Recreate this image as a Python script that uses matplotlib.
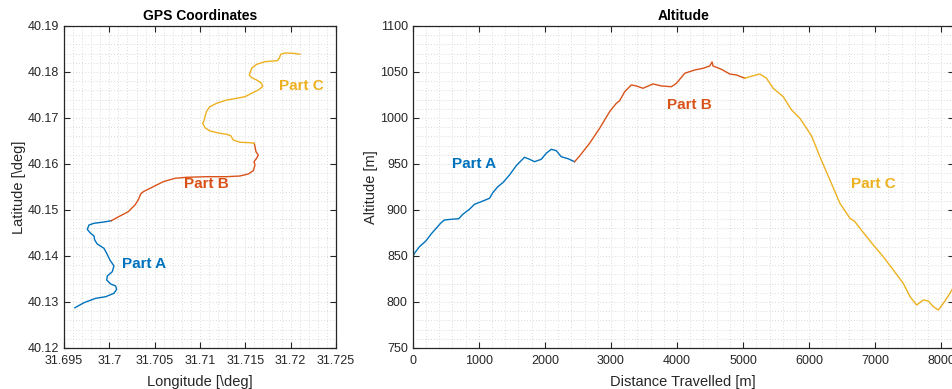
import matplotlib
matplotlib.use("Agg")
import matplotlib.pyplot as plt
from matplotlib.ticker import MultipleLocator, FuncFormatter

plt.rcParams["font.family"] = ["Liberation Sans", "DejaVu Sans"]

# MATLAB default line colours
C_A = "#0072BD"
C_B = "#D95319"
C_C = "#EDB120"
AX_COL = "#262626"

# ── GPS track, split into three parts ──────────────
lon_a = [31.69621, 31.69721, 31.69850, 31.69960, 31.70051, 31.70081, 31.70070,
         31.70015, 31.69971, 31.69978, 31.70033, 31.70051, 31.70007, 31.69971,
         31.69941, 31.69867, 31.69839, 31.69831, 31.69787, 31.69757, 31.69776,
         31.69831, 31.69941, 31.70022]
lat_a = [40.12876, 40.12985, 40.13080, 40.13115, 40.13189, 40.13276, 40.13348,
         40.13391, 40.13478, 40.13565, 40.13659, 40.13783, 40.13913, 40.14059,
         40.14167, 40.14261, 40.14348, 40.14435, 40.14507, 40.14580, 40.14674,
         40.14711, 40.14739, 40.14767]

lon_b = [31.70022, 31.70118, 31.70209, 31.70283, 31.70319, 31.70346, 31.70375,
         31.70485, 31.70595, 31.70724, 31.70853, 31.71074, 31.71294, 31.71441,
         31.71533, 31.71588, 31.71607, 31.71596, 31.71625, 31.71643, 31.71618,
         31.71607, 31.71599]
lat_b = [40.14767, 40.14870, 40.14963, 40.15109, 40.15217, 40.15348, 40.15398,
         40.15507, 40.15615, 40.15689, 40.15711, 40.15724, 40.15724, 40.15739,
         40.15783, 40.15854, 40.15978, 40.16050, 40.16124, 40.16196, 40.16267,
         40.16376, 40.16450]

lon_c = [31.71599, 31.71551, 31.71441, 31.71367, 31.71339, 31.71294, 31.71221,
         31.71110, 31.71055, 31.71030, 31.71044, 31.71055, 31.71074, 31.71110,
         31.71184, 31.71294, 31.71405, 31.71496, 31.71570, 31.71643, 31.71691,
         31.71680, 31.71625, 31.71570, 31.71544, 31.71570, 31.71625, 31.71717,
         31.71853, 31.71875, 31.71890, 31.71937, 31.72029, 31.72103]
lat_c = [40.16450, 40.16463, 40.16472, 40.16522, 40.16615, 40.16646, 40.16667,
         40.16717, 40.16789, 40.16885, 40.16935, 40.17028, 40.17152, 40.17246,
         40.17320, 40.17391, 40.17428, 40.17463, 40.17537, 40.17609, 40.17680,
         40.17754, 40.17826, 40.17876, 40.17935, 40.18080, 40.18167, 40.18224,
         40.18246, 40.18298, 40.18385, 40.18413, 40.18407, 40.18385]

# ── altitude profile vs distance ───────────────────
dist_a = [0, 26, 102, 203, 279, 355, 430, 480, 582, 697, 758, 859, 935, 1036,
          1162, 1212, 1288, 1364, 1465, 1567, 1692, 1768, 1844, 1945, 2021,
          2097, 2173, 2248, 2348, 2450]
alt_a = [848.6, 852.9, 860.1, 866.6, 873.9, 880.1, 886.2, 889.1, 889.9, 890.5,
         895.3, 900.8, 906.2, 909.0, 912.7, 918.8, 925.3, 929.7, 938.0, 948.2,
         957.3, 955.1, 952.5, 955.1, 961.6, 966.0, 964.5, 957.9, 955.8, 952.5]

dist_b = [2450, 2526, 2677, 2829, 2980, 3082, 3132, 3208, 3309, 3385, 3485,
          3636, 3764, 3915, 3991, 4117, 4268, 4394, 4495, 4530, 4545, 4673,
          4798, 4900, 5026]
alt_b = [952.5, 958.7, 972.5, 988.8, 1006.9, 1016.0, 1018.8, 1028.6, 1035.9,
         1034.8, 1032.3, 1037.0, 1034.8, 1034.0, 1037.7, 1048.6, 1052.2,
         1054.0, 1056.5, 1060.9, 1056.5, 1052.9, 1047.8, 1046.7, 1043.2]

dist_c = [5026, 5101, 5253, 5354, 5455, 5606, 5733, 5859, 6036, 6162, 6314,
          6465, 6617, 6692, 6768, 6970, 7121, 7273, 7424, 7526, 7627, 7727,
          7803, 7879, 7955, 8030, 8131, 8190]
alt_c = [1043.2, 1044.9, 1047.8, 1043.2, 1032.3, 1023.2, 1008.7, 999.7, 980.5,
         957.9, 932.6, 907.3, 891.0, 887.3, 880.1, 862.0, 849.2, 834.8, 820.3,
         805.8, 796.7, 802.2, 801.1, 794.9, 791.3, 798.6, 809.5, 817.0]

parts = ["Part A", "Part B", "Part C"]
colors = [C_A, C_B, C_C]
gps_label_pos = [(31.70382, 40.13826), (31.71066, 40.15565), (31.72114, 40.17696)]
alt_label_pos = [(935, 950), (4192, 1014), (6965, 928)]


def style_axes(ax):
    for s in ax.spines.values():
        s.set_color(AX_COL)
        s.set_linewidth(0.9)
    ax.tick_params(which="major", direction="in", length=4.5, width=0.8,
                   top=True, right=True, colors=AX_COL, labelsize=9,
                   labelcolor=AX_COL)
    ax.tick_params(which="minor", length=0, top=True, right=True)
    ax.grid(which="both", linestyle=(0, (1, 2.5)), color="#cfcfcf",
            linewidth=0.6)
    ax.set_axisbelow(True)


fig = plt.figure(figsize=(9.52, 3.89), dpi=100)
ax1 = fig.add_axes([0.0672, 0.1054, 0.2857, 0.8278])
ax2 = fig.add_axes([0.4335, 0.1054, 0.5685, 0.8278])

# GPS coordinates
for lo, la, c in zip([lon_a, lon_b, lon_c], [lat_a, lat_b, lat_c], colors):
    ax1.plot(lo, la, color=c, lw=1.0)
for name, (x, y), c in zip(parts, gps_label_pos, colors):
    ax1.text(x, y, name, color=c, fontsize=11, fontweight="bold",
             ha="center", va="center")
ax1.set_xlim(31.695, 31.725)
ax1.set_ylim(40.12, 40.19)
ax1.xaxis.set_major_locator(MultipleLocator(0.005))
ax1.xaxis.set_minor_locator(MultipleLocator(0.001))
ax1.yaxis.set_major_locator(MultipleLocator(0.01))
ax1.yaxis.set_minor_locator(MultipleLocator(0.002))
ax1.xaxis.set_major_formatter(FuncFormatter(lambda v, p: f"{round(v, 4):g}"))
ax1.yaxis.set_major_formatter(FuncFormatter(lambda v, p: f"{round(v, 3):g}"))
style_axes(ax1)
ax1.tick_params(axis="x", pad=5)
ax1.set_title("GPS Coordinates", fontsize=10, fontweight="bold",
              color="black", pad=4)
ax1.set_xlabel("Longitude [\\deg]", fontsize=10.5, color=AX_COL, labelpad=6)
ax1.set_ylabel("Latitude [\\deg]", fontsize=10.5, color=AX_COL, labelpad=1)

# Altitude profile
for d, a, c in zip([dist_a, dist_b, dist_c], [alt_a, alt_b, alt_c], colors):
    ax2.plot(d, a, color=c, lw=1.0)
for name, (x, y), c in zip(parts, alt_label_pos, colors):
    ax2.text(x, y, name, color=c, fontsize=11, fontweight="bold",
             ha="center", va="center")
ax2.set_xlim(0, 8190)
ax2.set_ylim(750, 1100)
ax2.xaxis.set_major_locator(MultipleLocator(1000))
ax2.xaxis.set_minor_locator(MultipleLocator(200))
ax2.yaxis.set_major_locator(MultipleLocator(50))
ax2.yaxis.set_minor_locator(MultipleLocator(10))
style_axes(ax2)
ax2.tick_params(axis="x", pad=5)
ax2.set_title("Altitude", fontsize=10, fontweight="bold", color="black", pad=4)
ax2.set_xlabel("Distance Travelled [m]", fontsize=10.5, color=AX_COL,
               labelpad=6)
ax2.set_ylabel("Altitude [m]", fontsize=10.5, color=AX_COL, labelpad=1)

fig.savefig("out.png", dpi=100)
